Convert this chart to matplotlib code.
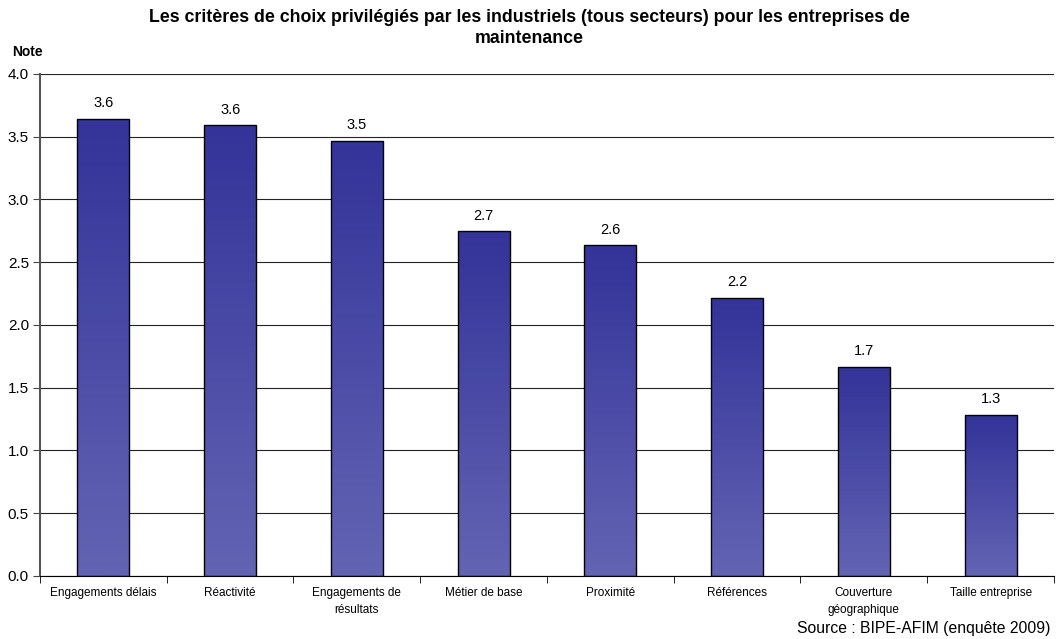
import numpy as np
import matplotlib.pyplot as plt
from matplotlib.colors import LinearSegmentedColormap

plt.rcParams['font.family'] = ['Liberation Sans', 'DejaVu Sans']

# Critères et notes moyennes
criteres = ['Engagements délais', 'Réactivité', 'Engagements de\nrésultats',
            'Métier de base', 'Proximité', 'Références', 'Couverture\ngéographique',
            'Taille entreprise']
notes = [3.645, 3.59, 3.47, 2.745, 2.635, 2.215, 1.665, 1.285]

titre = ('Les critères de choix privilégiés par les industriels (tous secteurs) '
         'pour les entreprises de\nmaintenance')
source = 'Source : BIPE-AFIM (enquête 2009)'

fig = plt.figure(figsize=(10.58, 6.39), dpi=100)
ax = fig.add_axes([0.0378, 0.0986, 0.9584, 0.7856])

x = np.arange(len(criteres))
largeur = 0.41
barres = ax.bar(x, notes, width=largeur, color='none', edgecolor='black',
                linewidth=1.0, zorder=3)

# Dégradé vertical dans chaque barre (foncé en haut, clair en bas)
cmap = LinearSegmentedColormap.from_list('bleu', ['#6464b4', '#333399'])
grad = np.linspace(0, 1, 256).reshape(-1, 1)
for b in barres:
    x0, h = b.get_x(), b.get_height()
    im = ax.imshow(grad, cmap=cmap, aspect='auto', origin='lower',
                   extent=[x0, x0 + b.get_width(), 0, h], zorder=2)
    im.set_clip_path(b)

for xi, v in zip(x, notes):
    ax.text(xi, v + 0.07, f'{v:.1f}', ha='center', va='bottom', fontsize=10.5)

ax.set_xlim(-0.5, len(criteres) - 0.5)
ax.set_ylim(0, 4.0)
ax.set_yticks(np.arange(0, 4.01, 0.5))
ax.set_yticklabels([f'{t:.1f}' for t in np.arange(0, 4.01, 0.5)], fontsize=11)
ax.yaxis.grid(True, color='#222222', linewidth=0.8, zorder=0)
ax.set_axisbelow(True)

ax.set_xticks(x)
ax.set_xticklabels(criteres, fontsize=8.5, linespacing=1.5)
ax.tick_params(axis='x', length=0, pad=8)
ax.set_xticks(np.arange(-0.5, len(criteres), 1.0), minor=True)
ax.tick_params(axis='x', which='minor', length=5, color='black')
ax.tick_params(axis='y', length=5, color='#444444', pad=3)

for s in ['top', 'right']:
    ax.spines[s].set_visible(False)
ax.spines['left'].set_color('#555555')
ax.spines['left'].set_linewidth(1.5)
ax.spines['bottom'].set_color('black')

fig.text(12 / 1058, 1 - 52 / 639, 'Note', fontsize=10, fontweight='bold',
         ha='left', va='center')
fig.text(0.5, 1 - 9 / 639, titre, ha='center', va='top', fontsize=12.8,
         fontweight='bold', linespacing=1.3)
fig.text(0.993, 0.005, source, ha='right', va='bottom', fontsize=11.3)

fig.savefig('out.png', dpi=100)
